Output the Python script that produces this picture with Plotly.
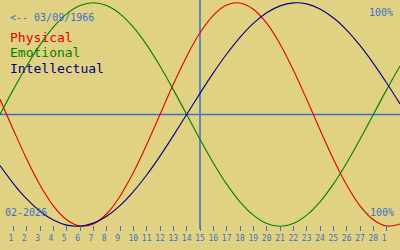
import plotly.graph_objects as go

# day index (0 = 31 Jan, 1..28 = Feb 2026, 29.. = March)
days = list(range(0, 31))
physical = [0.136, -0.136, -0.398, -0.631, -0.817, -0.942, -0.998, -0.979, -0.888, -0.731,
            -0.520, -0.270, 0.0, 0.270, 0.520, 0.731, 0.888, 0.979, 0.998, 0.942,
            0.817, 0.631, 0.398, 0.136, -0.136, -0.398, -0.631, -0.817, -0.942, -0.998, -0.979]
emotional = [0.0, 0.2225, 0.4339, 0.6235, 0.7818, 0.9010, 0.9749, 1.0, 0.9749, 0.9010,
             0.7818, 0.6235, 0.4339, 0.2225, 0.0, -0.2225, -0.4339, -0.6235, -0.7818, -0.9010,
             -0.9749, -1.0, -0.9749, -0.9010, -0.7818, -0.6235, -0.4339, -0.2225, 0.0, 0.2225, 0.4339]
intellectual = [-0.458, -0.618, -0.756, -0.866, -0.945, -0.990, -0.999, -0.972, -0.910, -0.815,
                -0.690, -0.541, -0.372, -0.189, 0.0, 0.189, 0.372, 0.541, 0.690, 0.815,
                0.910, 0.972, 0.999, 0.990, 0.945, 0.866, 0.756, 0.618, 0.458, 0.282, 0.095]

tick_days = list(range(1, 30))
tick_labels = [str(d) for d in range(1, 29)] + ["1"]
today = 15
birth_label = "<-- 03/09/1966"
month_label = "02-2026"
series_names = ["Physical", "Emotional", "Intellectual"]

BG = "#e0d282"
TXT = "#3c70c8"
COLORS = ["#e00000", "#008000", "#000080"]
FONT = "DejaVu Sans Mono"

W, H = 400, 250
fig = go.Figure()
for name, vals, col in zip(series_names, [physical, emotional, intellectual], COLORS):
    fig.add_trace(go.Scatter(x=days, y=vals, mode="lines", name=name,
                             line=dict(color=col, width=1.1, shape="spline"),
                             hoverinfo="skip"))

def pad(s):
    return s if len(s) == 2 else s + "\u00a0"

fig.update_layout(
    width=W, height=H, margin=dict(l=0, r=0, t=0, b=0),
    paper_bgcolor=BG, plot_bgcolor=BG, showlegend=False,
    xaxis=dict(range=[0, 30], showgrid=False, zeroline=False, showline=False,
               tickmode="array", tickvals=tick_days, ticktext=[pad(t) for t in tick_labels],
               ticks="outside", ticklen=5, tickwidth=1, tickcolor=TXT,
               tickfont=dict(family=FONT, size=8, color=TXT),
               anchor="free", position=(H - 225) / H),
    yaxis=dict(range=[-1.2125, 1.0246], showgrid=False, zeroline=False,
               showline=False, showticklabels=False, ticks=""),
)

fig.add_shape(type="line", xref="paper", yref="y", x0=0, x1=1, y0=0, y1=0,
              line=dict(color=TXT, width=1.5), layer="below")
fig.add_shape(type="line", xref="x", yref="paper", x0=today, x1=today,
              y0=(H - 229) / H, y1=1, line=dict(color=TXT, width=1.5), layer="below")

def ann(text, x, y, xanchor, size, color):
    fig.add_annotation(text=text, xref="paper", yref="paper", x=x / W, y=1 - y / H,
                       xanchor=xanchor, yanchor="middle", showarrow=False,
                       font=dict(family=FONT, size=size, color=color))

ann(birth_label.replace("<", "&lt;"), 8, 17, "left", 10, TXT)
ann("100%", 395, 12, "right", 10, TXT)
ann("-100%", 396, 212, "right", 10, TXT)
ann(month_label, 3, 212, "left", 10, TXT)
for i, (name, col) in enumerate(zip(series_names, COLORS)):
    ann(name, 8, 37 + 15.5 * i, "left", 13, col)

fig.write_html("out.html")
